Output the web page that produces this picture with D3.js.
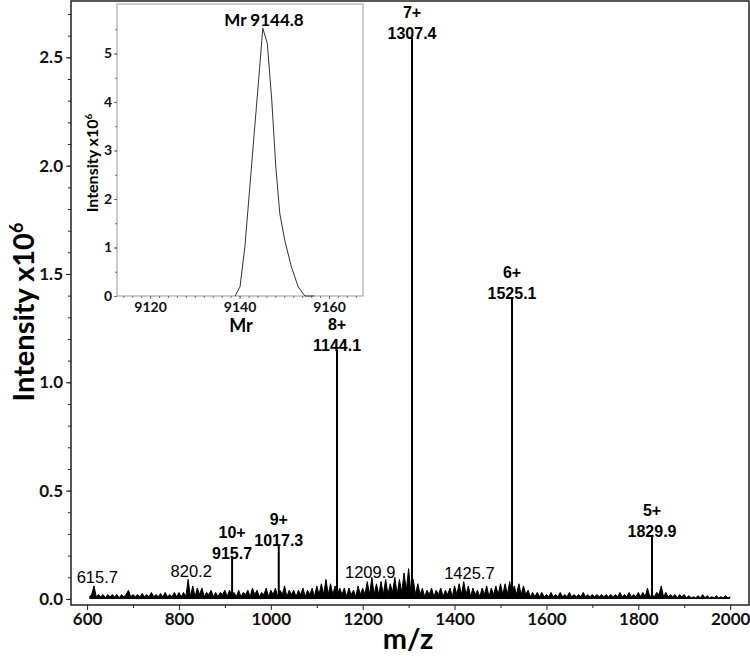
<!DOCTYPE html>
<html>
<head>
<meta charset="utf-8">
<script src="https://cdn.jsdelivr.net/npm/d3@7"></script>
<style>
  body { margin: 0; background: #fff; }
  svg { display: block; }
</style>
</head>
<body>
<svg></svg>
<script>
const width = 750;
const height = 656;

// baseline noise: m/z 605..2000 in steps of 5,
// intensity in units of 1e4 counts (= 0.01 x10^6)
const noiseStart = 605;
const noiseStep = 5;
const noiseIntensity = [
  1,2,6,1,2,1,2,0.5,2,1,2,1,2,0.5,2,1,2,4,1,2,
  1,2,1,2.5,1,2,1,3,1,2,1,2.5,1,3,1,2,1,3,1,3,
  1,3,1,9,1,6,1,5,2,5,1,3,2,4,1,3,1,3,2,4,
  1,4,2,3,1,4,1,3,2,4,1,5,2,4,1,3,2,5,1,4,
  2,5,1,4,2,6,1,4,2,4,1,4,2,5,1,4,2,5,1,6,
  2,7,2,9,2,7,2,6,2,5,2,5,1,5,2,4,1,6,2,5,
  2,8,2,10,2,7,2,8,2,9,2,7,3,10,2,9,3,12,4,14,
  3,9,2,7,2,5,1,4,2,5,1,4,2,5,1,4,2,5,1,6,
  2,7,2,8,2,6,1,5,2,4,1,5,2,6,1,5,2,6,2,7,
  2,7,2,8,2,6,2,7,2,6,2,4,1,3,1,3,1,3,1,2,
  1,3,1,2,1,3,1,2,1,3,1,2,1,2,1,3,1,2,1,2,
  1,2,1,2,1,2,1,2,1,2,1,3,1,2,1,3,1,2,1,3,
  1,3,1,5,1,2,1,3,2,6,1,3,1,2,1,2,0.5,2,1,2,
  0.5,1.5,0.5,1,0.5,1.5,0.5,2,0.5,1.5,0.5,1,0.5,1.5,0.5,1,0.5,1.5,0.5,1
];

// labelled charge-state peaks (intensity x10^6)
const peakMz = [915.7, 1017.3, 1144.1, 1307.4, 1525.1, 1829.9];
const peakIntensity = [0.19, 0.25, 1.15, 2.59, 1.39, 0.29];
const peakCharge = ["10+", "9+", "8+", "7+", "6+", "5+"];

// small annotated peaks
const minorMz = [615.7, 820.2, 1209.9, 1425.7];
const minorLift = [16, 22, 21, 20];

const yTicks = [0, 0.5, 1.0, 1.5, 2.0, 2.5];
const xTicks = [600, 800, 1000, 1200, 1400, 1600, 1800, 2000];

// deconvoluted mass (inset)
const massMr = [9139.0, 9140.1, 9141.2, 9142.3, 9143.4, 9144.3, 9145.2, 9146.2, 9147.2,
                9148.1, 9149.0, 9150.1, 9151.6, 9153.1, 9154.6, 9156.7];
const massIntensity = [0, 0.19, 1.02, 2.25, 3.49, 4.49, 5.52, 5.21, 4.04,
                       2.67, 1.70, 1.15, 0.60, 0.19, 0, 0];
const insetYTicks = [0, 1, 2, 3, 4, 5];
const insetXTicks = [9120, 9140, 9160];

const tickFont = "Lato, 'Open Sans', sans-serif";
const labelFont = "'Liberation Sans', Arial, sans-serif";

const svg = d3.select('svg').attr('width', width).attr('height', height);

const plot = { left: 71, right: 749, top: 1, bottom: 605 };
const x = d3.scaleLinear().domain([565, 2041]).range([plot.left, plot.right]);
const y = d3.scaleLinear().domain([-0.028, 2.76]).range([plot.bottom, plot.top]);

// axes
const yAxis = svg.append('g').attr('transform', `translate(${plot.left},0)`)
    .call(d3.axisLeft(y).tickValues(yTicks).tickFormat(d3.format('.1f')).tickSize(5).tickPadding(3));
const yMinor = svg.append('g').attr('transform', `translate(${plot.left},0)`)
    .call(d3.axisLeft(y).tickValues(d3.range(0, 2.75, 0.1)).tickFormat('').tickSize(3));
const xAxis = svg.append('g').attr('transform', `translate(0,${plot.bottom})`)
    .call(d3.axisBottom(x).tickValues(xTicks).tickFormat(d3.format('d')).tickSize(5).tickPadding(3));
const xMinor = svg.append('g').attr('transform', `translate(0,${plot.bottom})`)
    .call(d3.axisBottom(x).tickValues(d3.range(700, 2000, 200)).tickFormat('').tickSize(3));

[yAxis, yMinor, xAxis, xMinor].forEach(g => {
    g.select('.domain').remove();
    g.selectAll('line').attr('stroke', '#222').attr('stroke-width', 1);
    g.selectAll('text').attr('font-family', tickFont).attr('font-weight', 700)
        .attr('font-size', 17).attr('fill', '#111');
});

svg.append('rect')
    .attr('x', plot.left).attr('y', plot.top)
    .attr('width', plot.right - plot.left).attr('height', plot.bottom - plot.top)
    .attr('fill', 'none').attr('stroke', '#222').attr('stroke-width', 1.5);

// spectrum baseline: dense noise band
const noise = noiseIntensity.map((v, i) => [noiseStart + i * noiseStep, v / 100]);
svg.append('path')
    .datum(noise)
    .attr('d', d3.area().x(d => x(d[0])).y0(y(0)).y1(d => y(d[1])))
    .attr('fill', '#000');
svg.append('path')
    .datum(noise)
    .attr('d', d3.line().x(d => x(d[0])).y(d => y(d[1])))
    .attr('fill', 'none').attr('stroke', '#000').attr('stroke-width', 1)
    .attr('stroke-linejoin', 'bevel');

// charge-state peaks
svg.append('g').selectAll('line')
    .data(peakMz)
    .enter().append('line')
    .attr('x1', d => x(d)).attr('x2', d => x(d))
    .attr('y1', y(0.005))
    .attr('y2', (d, i) => y(peakIntensity[i]))
    .attr('stroke', '#000').attr('stroke-width', 2);

const peakLabels = svg.append('g')
    .attr('font-family', labelFont).attr('font-weight', 700)
    .attr('font-size', 16).attr('text-anchor', 'middle').attr('fill', '#000');
peakMz.forEach((mz, i) => {
    const top = y(peakIntensity[i]);
    peakLabels.append('text').attr('x', x(mz)).attr('y', top + 1).text(mz.toFixed(1));
    peakLabels.append('text').attr('x', x(mz)).attr('y', top - 20).text(peakCharge[i]);
});

svg.append('g')
    .attr('font-family', labelFont).attr('font-size', 16.5)
    .attr('text-anchor', 'middle').attr('fill', '#000')
    .selectAll('text')
    .data(minorMz)
    .enter().append('text')
    .attr('x', d => x(d) + 3)
    .attr('y', (d, i) => y(0) - minorLift[i])
    .text(d => d.toFixed(1));

// axis titles
svg.append('text')
    .attr('x', 408).attr('y', 649)
    .attr('text-anchor', 'middle')
    .attr('font-family', tickFont).attr('font-weight', 700).attr('font-size', 29)
    .text('m/z');

const yTitle = svg.append('text')
    .attr('transform', 'translate(34,312) rotate(-90)')
    .attr('text-anchor', 'middle')
    .attr('font-family', tickFont).attr('font-weight', 700).attr('font-size', 29);
yTitle.append('tspan').text('Intensity x10');
yTitle.append('tspan').attr('dy', -11).attr('font-size', 18).text('6');

// inset
const inset = { left: 117, right: 363, top: 4, bottom: 296 };
const xi = d3.scaleLinear().domain([9112.6, 9167.6]).range([inset.left, inset.right]);
const yi = d3.scaleLinear().domain([0, 6.02]).range([inset.bottom, inset.top]);

const ig = svg.append('g');
ig.append('rect')
    .attr('x', inset.left).attr('y', inset.top)
    .attr('width', inset.right - inset.left).attr('height', inset.bottom - inset.top)
    .attr('fill', '#fff').attr('stroke', '#999').attr('stroke-width', 1);

const iyAxis = ig.append('g').attr('transform', `translate(${inset.left},0)`)
    .call(d3.axisLeft(yi).tickValues(insetYTicks).tickFormat(d3.format('d')).tickSize(3).tickPadding(2));
const iyMinor = ig.append('g').attr('transform', `translate(${inset.left},0)`)
    .call(d3.axisLeft(yi).tickValues(d3.range(0.5, 6, 0.5)).tickFormat('').tickSize(2));
const ixAxis = ig.append('g').attr('transform', `translate(0,${inset.bottom})`)
    .call(d3.axisBottom(xi).tickValues(insetXTicks).tickFormat(d3.format('d')).tickSize(3).tickPadding(3));
const ixMinor = ig.append('g').attr('transform', `translate(0,${inset.bottom})`)
    .call(d3.axisBottom(xi).tickValues(d3.range(9114, 9167, 2)).tickFormat('').tickSize(2));

[iyAxis, iyMinor, ixAxis, ixMinor].forEach(g => {
    g.select('.domain').remove();
    g.selectAll('line').attr('stroke', '#555').attr('stroke-width', 0.8);
    g.selectAll('text').attr('font-family', tickFont).attr('font-weight', 700)
        .attr('font-size', 14).attr('fill', '#111');
});

const mass = massMr.map((m, i) => [m, massIntensity[i]]);
ig.append('path')
    .datum(mass)
    .attr('d', d3.line().x(d => xi(d[0])).y(d => yi(d[1])))
    .attr('fill', 'none').attr('stroke', '#333').attr('stroke-width', 1);

ig.append('text')
    .attr('x', 264).attr('y', 26)
    .attr('text-anchor', 'middle')
    .attr('font-family', tickFont).attr('font-weight', 700).attr('font-size', 17)
    .text('Mr 9144.8');

ig.append('text')
    .attr('x', 241).attr('y', 332)
    .attr('text-anchor', 'middle')
    .attr('font-family', tickFont).attr('font-weight', 700).attr('font-size', 18)
    .text('Mr');

const iyTitle = ig.append('text')
    .attr('transform', 'translate(98,163) rotate(-90)')
    .attr('text-anchor', 'middle')
    .attr('font-family', tickFont).attr('font-weight', 700).attr('font-size', 16);
iyTitle.append('tspan').text('Intensity x10');
iyTitle.append('tspan').attr('dy', -6).attr('font-size', 10).text('6');
</script>
</body>
</html>
